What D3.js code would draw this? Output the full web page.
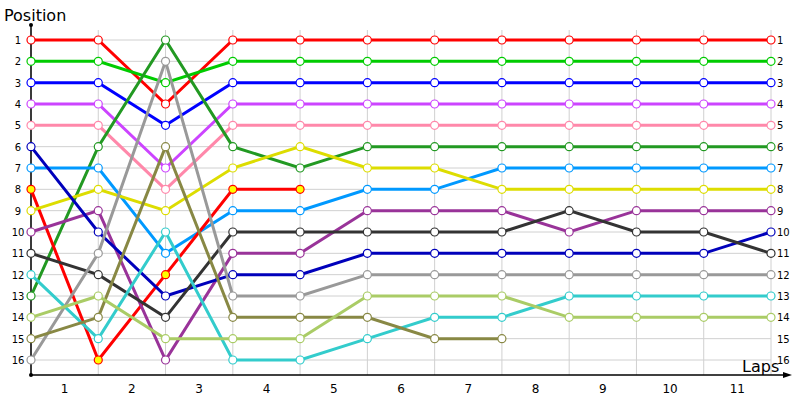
<!DOCTYPE html>
<html><head><meta charset="utf-8">
<script src="https://cdn.jsdelivr.net/npm/d3@7"></script>
<style>body{margin:0;background:#fff}text{font-family:Tahoma,"DejaVu Sans",sans-serif}</style>
</head><body><svg id="c" width="800" height="400"></svg>
<script>
const laps = ["1","2","3","4","5","6","7","8","9","10","11"];
const positions = d3.range(1,17);
const colors = ["#ff0000","#00cc00","#0000ff","#cc44ff","#ff88aa","#229922","#0099ff","#ff0000","#dddd00","#993399","#0000bb","#333333","#33cccc","#999999","#888844","#aacc66"];
const fills  = ["#fff","#fff","#fff","#fff","#fff","#fff","#fff","#ffff00","#fff","#fff","#fff","#fff","#fff","#fff","#fff","#fff"];
const series = [
 [1,1,4,1,1,1,1,1,1,1,1,1],
 [2,2,3,2,2,2,2,2,2,2,2,2],
 [3,3,5,3,3,3,3,3,3,3,3,3],
 [4,4,7,4,4,4,4,4,4,4,4,4],
 [5,5,8,5,5,5,5,5,5,5,5,5],
 [13,6,1,6,7,6,6,6,6,6,6,6],
 [7,7,11,9,9,8,8,7,7,7,7,7],
 [8,16,12,8,8],
 [9,8,9,7,6,7,7,8,8,8,8,8],
 [10,9,16,11,11,9,9,9,10,9,9,9],
 [6,10,13,12,12,11,11,11,11,11,11,10],
 [11,12,14,10,10,10,10,10,9,10,10,11],
 [12,15,10,16,16,15,14,14,13,13,13,13],
 [16,11,2,13,13,12,12,12,12,12,12,12],
 [15,14,6,14,14,14,15,15],
 [14,13,15,15,15,13,13,13,14,14,14,14]
];
const svg = d3.select("#c");
const x = d3.scaleLinear().domain([0,11]).range([31,771]);
const y = d3.scaleLinear().domain([1,16]).range([40,360]);
const g = svg.append("g");
// grid
g.selectAll(".vg").data(d3.range(0,12)).join("line").attr("x1",d=>x(d)).attr("x2",d=>x(d)).attr("y1",30).attr("y2",375).attr("stroke","#d0d0d0");
g.selectAll(".hg").data(positions).join("line").attr("x1",31).attr("x2",771).attr("y1",d=>y(d)).attr("y2",d=>y(d)).attr("stroke","#d0d0d0");
// axes
svg.append("line").attr("x1",31).attr("x2",31).attr("y1",25).attr("y2",375).attr("stroke","#000").attr("stroke-width",1.5);
svg.append("line").attr("x1",31).attr("x2",785).attr("y1",375).attr("y2",375).attr("stroke","#000").attr("stroke-width",1.5);
svg.append("path").attr("d","M783,372 L792,375 L783,378 Z").attr("fill","#000");
svg.append("circle").attr("cx",31).attr("cy",25).attr("r",2).attr("fill","#000");
svg.append("circle").attr("cx",31).attr("cy",375).attr("r",2).attr("fill","#000");
svg.append("text").attr("x",4).attr("y",21).attr("font-size",16).text("Position");
svg.append("text").attr("x",742).attr("y",372).attr("font-size",16).text("Laps");
svg.selectAll(".yl").data(positions).join("text").attr("x",18).attr("y",d=>y(d)+4).attr("text-anchor","middle").attr("font-size",10).text(d=>d);
svg.selectAll(".yr").data(positions).join("text").attr("x",777).attr("y",d=>y(d)+4).attr("font-size",10).text(d=>d);
svg.selectAll(".xl").data(laps).join("text").attr("x",(d,i)=>x(i+0.5)).attr("y",393).attr("text-anchor","middle").attr("font-size",12).text(d=>d);
const line = d3.line().x((d,i)=>x(i)).y(d=>y(d));
series.forEach((s,k)=>{
  svg.append("path").attr("d",line(s)).attr("fill","none").attr("stroke",colors[k]).attr("stroke-width",3);
});
series.forEach((s,k)=>{
  svg.selectAll(null).data(s).join("circle").attr("cx",(d,i)=>x(i)).attr("cy",d=>y(d)).attr("r",4)
    .attr("fill",fills[k]).attr("stroke",colors[k]).attr("stroke-width",1.2);
});
</script></body></html>
